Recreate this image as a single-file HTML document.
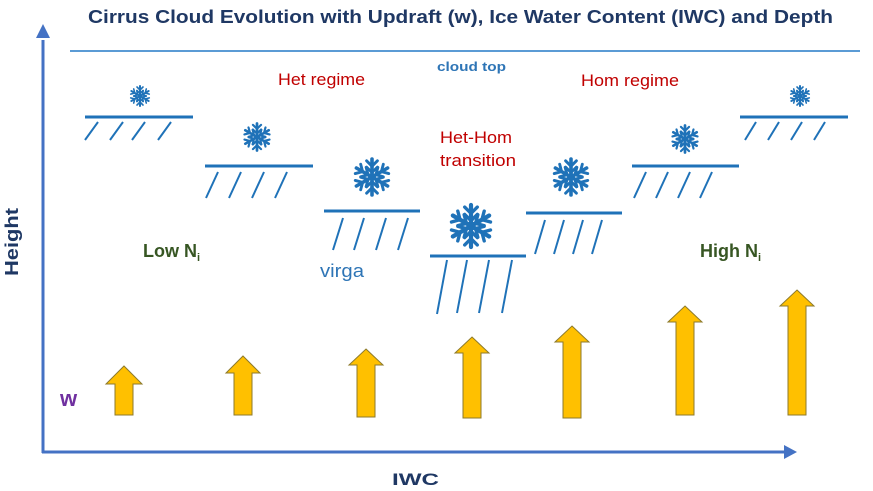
<!DOCTYPE html>
<html><head><meta charset="utf-8"><style>
html,body{margin:0;padding:0;background:#fff}
svg{display:block}
text{font-family:"Liberation Sans",sans-serif}
</style></head><body>
<svg width="873" height="491" viewBox="0 0 873 491" xmlns="http://www.w3.org/2000/svg">
<defs>
<g id="sf" stroke="#1f72b8" stroke-linecap="round" fill="none">
 <g id="arm"><line x1="0" y1="0" x2="0" y2="-10" stroke-width="2"/><polyline points="-3,-9 0,-6 3,-9" stroke-width="1.6"/><polyline points="-3,-5.5 0,-2.5 3,-5.5" stroke-width="1.6"/></g>
 <use href="#arm" transform="rotate(60)"/><use href="#arm" transform="rotate(120)"/><use href="#arm" transform="rotate(180)"/><use href="#arm" transform="rotate(240)"/><use href="#arm" transform="rotate(300)"/>
 <circle r="2.2" fill="#1f72b8" stroke="none"/>
</g>
</defs>
<text x="88" y="23" font-size="18.5" font-weight="bold" fill="#1f3864" textLength="745" lengthAdjust="spacingAndGlyphs">Cirrus Cloud Evolution  with Updraft (w), Ice Water Content (IWC) and Depth</text>
<!-- axes -->
<line x1="43" y1="40" x2="43" y2="453" stroke="#4472c4" stroke-width="3"/>
<polygon points="36,38 43,24 50,38" fill="#4472c4"/>
<line x1="42" y1="452" x2="786" y2="452" stroke="#4472c4" stroke-width="3"/>
<polygon points="784,445 797,452 784,459" fill="#4472c4"/>
<text transform="translate(18,242) rotate(-90)" text-anchor="middle" font-size="18" font-weight="bold" fill="#1f3864" textLength="68" lengthAdjust="spacingAndGlyphs">Height</text>
<text x="392" y="485" font-size="17" font-weight="bold" fill="#1f3864" textLength="47" lengthAdjust="spacingAndGlyphs">IWC</text>
<!-- cloud top -->
<line x1="70" y1="51" x2="860" y2="51" stroke="#5b9bd5" stroke-width="2"/>
<text x="437" y="71" font-size="13" font-weight="bold" fill="#2e75b6" textLength="69" lengthAdjust="spacingAndGlyphs">cloud top</text>
<text x="278" y="85" font-size="16.5" fill="#c00000" textLength="87" lengthAdjust="spacingAndGlyphs">Het regime</text>
<text x="581" y="86" font-size="16.5" fill="#c00000" textLength="98" lengthAdjust="spacingAndGlyphs">Hom regime</text>
<text x="440" y="143" font-size="16.5" fill="#c00000" textLength="72" lengthAdjust="spacingAndGlyphs">Het-Hom</text>
<text x="440" y="166" font-size="16.5" fill="#c00000" textLength="76" lengthAdjust="spacingAndGlyphs">transition</text>
<text x="143" y="257" font-size="18" font-weight="bold" fill="#375623">Low N<tspan font-size="11" dy="4">i</tspan></text>
<text x="700" y="257" font-size="18" font-weight="bold" fill="#375623">High N<tspan font-size="11" dy="4">i</tspan></text>
<text x="320" y="277" font-size="18" fill="#2e75b6" textLength="44" lengthAdjust="spacingAndGlyphs">virga</text>
<text x="60" y="406" font-size="22" font-weight="bold" fill="#7030a0">w</text>
<!-- clouds -->
<g stroke="#1f72b8" stroke-width="3">
<line x1="85" y1="117" x2="193" y2="117"/><line x1="205" y1="166" x2="313" y2="166"/>
<line x1="324" y1="211" x2="420" y2="211"/><line x1="430" y1="256" x2="526" y2="256"/>
<line x1="526" y1="213" x2="622" y2="213"/><line x1="632" y1="166" x2="739" y2="166"/>
<line x1="740" y1="117" x2="848" y2="117"/>
</g>
<g stroke="#1f72b8" stroke-width="2">
<line x1="85" y1="140" x2="98" y2="122"/><line x1="110" y1="140" x2="123" y2="122"/><line x1="132" y1="140" x2="145" y2="122"/><line x1="158" y1="140" x2="171" y2="122"/>
<line x1="206" y1="198" x2="218" y2="172"/><line x1="229" y1="198" x2="241" y2="172"/><line x1="252" y1="198" x2="264" y2="172"/><line x1="275" y1="198" x2="287" y2="172"/>
<line x1="333" y1="250" x2="343" y2="218"/><line x1="354" y1="250" x2="364" y2="218"/><line x1="376" y1="250" x2="386" y2="218"/><line x1="398" y1="250" x2="408" y2="218"/>
<line x1="437" y1="314" x2="447" y2="260"/><line x1="457" y1="313" x2="467" y2="260"/><line x1="479" y1="313" x2="489" y2="260"/><line x1="502" y1="313" x2="512" y2="260"/>
<line x1="535" y1="254" x2="545" y2="220"/><line x1="554" y1="254" x2="564" y2="220"/><line x1="573" y1="254" x2="583" y2="220"/><line x1="592" y1="254" x2="602" y2="220"/>
<line x1="634" y1="198" x2="646" y2="172"/><line x1="656" y1="198" x2="668" y2="172"/><line x1="678" y1="198" x2="690" y2="172"/><line x1="700" y1="198" x2="712" y2="172"/>
<line x1="745" y1="140" x2="756" y2="122"/><line x1="768" y1="140" x2="779" y2="122"/><line x1="791" y1="140" x2="802" y2="122"/><line x1="814" y1="140" x2="825" y2="122"/>
</g>
<!-- snowflakes -->
<use href="#sf" transform="translate(140,96) scale(1.0)"/>
<use href="#sf" transform="translate(257,137) scale(1.35)"/>
<use href="#sf" transform="translate(372,177) scale(1.8)"/>
<use href="#sf" transform="translate(471,226) scale(2.1)"/>
<use href="#sf" transform="translate(571,177) scale(1.8)"/>
<use href="#sf" transform="translate(685,139) scale(1.35)"/>
<use href="#sf" transform="translate(800,96) scale(1.0)"/>
<!-- updraft arrows -->
<g fill="#ffc000" stroke="#8c7a2c" stroke-width="1">
<polygon points="124,366 142,384 133,384 133,415 115,415 115,384 106,384"/>
<polygon points="243,356 260,373 252,373 252,415 234,415 234,373 226,373"/>
<polygon points="366,349 383,365 375,365 375,417 357,417 357,365 349,365"/>
<polygon points="472,337 489,353 481,353 481,418 463,418 463,353 455,353"/>
<polygon points="572,326 589,342 581,342 581,418 563,418 563,342 555,342"/>
<polygon points="685,306 702,322 694,322 694,415 676,415 676,322 668,322"/>
<polygon points="797,290 814,306 806,306 806,415 788,415 788,306 780,306"/>
</g>
</svg>
</body></html>
